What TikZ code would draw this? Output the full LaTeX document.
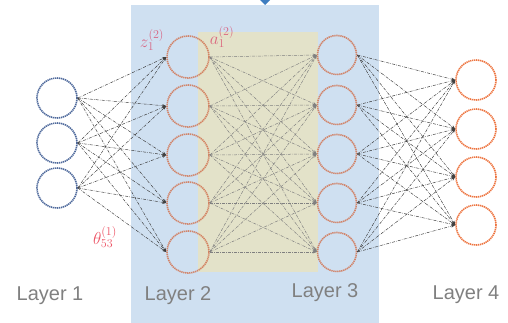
\documentclass[tikz,border=0pt]{standalone}
\usepackage{fontspec}
\setsansfont{Liberation Sans}
\usetikzlibrary{arrows.meta}

\definecolor{panelblue}{HTML}{CFE0F1}
\definecolor{panelsand}{HTML}{E3E2C9}
\definecolor{markerblue}{HTML}{3E7DC0}
\definecolor{inputcol}{HTML}{2F4F8A}
\definecolor{hiddencol}{HTML}{D27452}
\definecolor{outputcol}{HTML}{EA5C1E}
\definecolor{notecol}{HTML}{DA4A6C}
\definecolor{weightcol}{HTML}{E8283E}

\tikzset{
  neuron/.style={circle, minimum size=40pt, inner sep=0pt,
    line width=1.6pt, dash pattern=on 1.3pt off 0.7pt, draw opacity=0.85},
  link/.style={line width=0.5pt, draw=black!75,
    dash pattern=on 3pt off 1.2pt on 0.6pt off 1.2pt,
    -{Stealth[length=4pt,width=3pt]}},
  softlink/.style={link, draw=black!50},
  layerlabel/.style={font=\sffamily\fontsize{20}{20}\selectfont, text=black!50},
  note/.style={font=\fontsize{17}{17}\selectfont, text=notecol, text opacity=0.8},
}

\begin{document}
\begin{tikzpicture}[x=1pt,y=-1pt]
\useasboundingbox (0,0) rectangle (508,323);
\clip (0,0) rectangle (508,323);

% background panels for the hidden layers
\fill[panelblue] (131,5) rectangle (379,323);
\fill[panelsand] (198,32) rectangle (318,272);
\fill[markerblue] (265,-5) -- (270,0) -- (265,5) -- (260,0) -- cycle;

% neurons
\foreach \i/\y in {1/98, 2/143, 3/188}
  \node[neuron, draw=inputcol] (in-\i) at (57,\y) {};
\foreach \i/\y in {1/57, 2/106, 3/155, 4/203, 5/252}
  \node[neuron, draw=hiddencol, minimum size=42pt] (ha-\i) at (188,\y) {};
\foreach \i/\y in {1/55, 2/105, 3/154, 4/203, 5/252}
  \node[neuron, draw=hiddencol, minimum size=39pt] (hb-\i) at (337,\y) {};
\foreach \i/\y in {1/80, 2/129, 3/177, 4/225}
  \node[neuron, draw=outputcol] (out-\i) at (476,\y) {};

% weighted connections
\foreach \i in {1,2,3}
  \foreach \j in {1,...,5}
    \draw[link] (in-\i.east) -- (ha-\j.west);
\foreach \i in {1,...,5}
  \foreach \j in {1,...,5}
    \draw[softlink] (ha-\i.east) -- (hb-\j.west);
\foreach \i in {1,...,5}
  \foreach \j in {1,...,4}
    \draw[link] (hb-\i.east) -- (out-\j.west);

% annotations
\node[note] (zlab) at (152,40) {$z_1^{(2)}$};
\node[note] (alab) at (222,37) {$a_1^{(2)}$};
\node[note, text=weightcol, font=\fontsize{18}{18}\selectfont] (wlab) at (105,237) {$\theta_{53}^{(1)}$};

% layer captions
\node[layerlabel] (cap1) at (50,296) {Layer 1};
\node[layerlabel] (cap2) at (178,296) {Layer 2};
\node[layerlabel] (cap3) at (325,293) {Layer 3};
\node[layerlabel] (cap4) at (466,295) {Layer 4};
\end{tikzpicture}
\end{document}
